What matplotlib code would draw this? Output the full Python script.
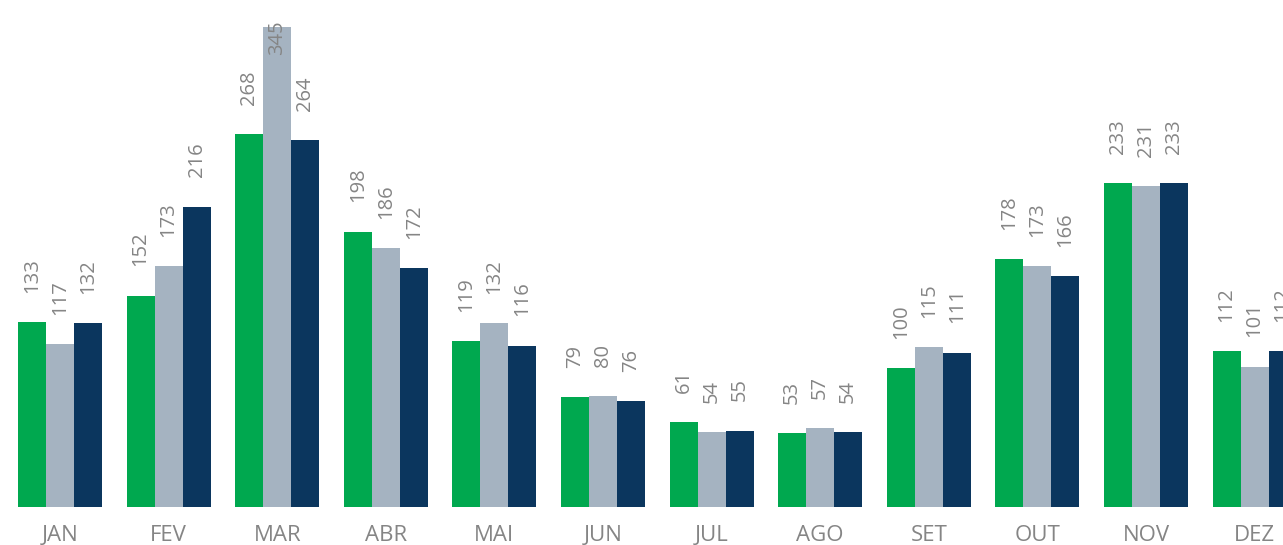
import matplotlib.pyplot as plt
import numpy as np

MONTHS = ["JAN", "FEV", "MAR", "ABR", "MAI", "JUN", "JUL", "AGO", "SET", "OUT", "NOV", "DEZ"]
SERIES_A = [133, 152, 268, 198, 119, 79, 61, 53, 100, 178, 233, 112]
SERIES_B = [117, 173, 345, 186, 132, 80, 54, 57, 115, 173, 231, 101]
SERIES_C = [132, 216, 264, 172, 116, 76, 55, 54, 111, 166, 233, 112]

COLORS = ["#00A84F", "#A5B3C1", "#0B365E"]
LABEL_COLOR = "#858585"

plt.rcParams["font.family"] = ["Open Sans", "DejaVu Sans"]

fig = plt.figure(figsize=(12.83, 5.45), dpi=100)
ax = fig.add_axes([0, 0.0697, 1, 0.9303])

x = np.arange(len(MONTHS))
width = 0.258
ymax = 364.5

for i, (vals, color) in enumerate(zip([SERIES_A, SERIES_B, SERIES_C], COLORS)):
    xs = x + (i - 1) * width
    ax.bar(xs, vals, width, color=color)
    for xi, v in zip(xs, vals):
        if (ymax - v) * 1.391 < 70:
            # not enough room above the bar: put the label inside
            offset = -20
        else:
            offset = 21
        ax.annotate(str(v), (xi, v), xytext=(0, offset), textcoords="offset points",
                    rotation=90, ha="center", va="bottom", fontsize=14.5,
                    color=LABEL_COLOR, annotation_clip=False)

ax.set_xlim(-60 / 108.6, (1283 - 60) / 108.6)
ax.set_ylim(0, ymax)
ax.set_xticks(x)
ax.set_xticklabels(MONTHS, fontsize=16, color=LABEL_COLOR)
ax.tick_params(axis="x", length=0, pad=13)
ax.set_yticks([])
for spine in ax.spines.values():
    spine.set_visible(False)

fig.savefig("out.png", dpi=100)
